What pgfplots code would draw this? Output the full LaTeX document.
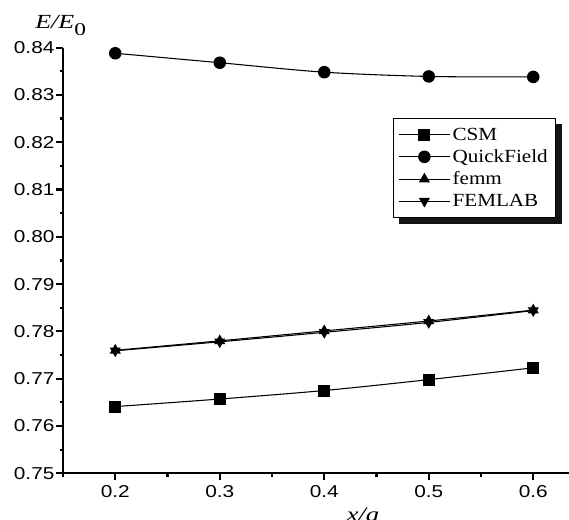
\documentclass[border=0pt]{standalone}
\usepackage{graphicx}
\usepackage{pgfplots}
\pgfplotsset{compat=1.18}
\usepackage{fontspec}
\setmainfont{Liberation Serif}
\newfontfamily\arial{Liberation Sans}
\usetikzlibrary{backgrounds}
\begin{document}
\begin{tikzpicture}
\begin{axis}[
  scale only axis,
  width=391.9pt, height=319.3pt,
  xmin=0.15, xmax=0.65, ymin=0.75, ymax=0.84,
  axis x line=bottom, axis y line=left,
  axis line style={-, line width=1.6pt},
  every tick/.style={line width=1.6pt, black},
  tick align=outside,
  major tick length=5.25pt, minor tick length=2.6pt,
  xtick={0.2,0.3,0.4,0.5,0.6},
  minor xtick={0.15,0.25,0.35,0.45,0.55,0.65},
  ytick={0.75,0.76,0.77,0.78,0.79,0.80,0.81,0.82,0.83,0.84},
  minor ytick={0.755,0.765,0.775,0.785,0.795,0.805,0.815,0.825,0.835},
  /pgf/number format/assume math mode=true,
  tick label style={font=\arial\fontsize{12.9}{14}\selectfont},
  yticklabel={\scalebox{1.21}[1]{\pgfmathprintnumber[fixed,fixed zerofill,precision=2]{\tick}}},
  xticklabel={\scalebox{1.21}[1]{\pgfmathprintnumber[fixed,fixed zerofill,precision=1]{\tick}}},
  yticklabel style={inner xsep=1pt},
  scaled y ticks=false, scaled x ticks=false,
  clip=false,
  legend style={name=leg, at={(0.6316,0.8346)}, anchor=north west, draw=black, line width=0.7pt,
    font=\fontsize{13.9}{16}\selectfont, fill=white,
    inner xsep=4pt, inner ysep=5pt, row sep=1.5pt, cells={anchor=west}},
  legend image code/.code={\draw[mark repeat=2,mark phase=2] plot coordinates {(0cm,0cm) (0.66cm,0cm) (1.32cm,0cm)};},
  every axis plot/.append style={black, line width=0.8pt},
]
\addplot[smooth, mark=square*, mark size=4.1pt] coordinates {(0.2,0.7641) (0.3,0.7657) (0.4,0.7675) (0.5,0.7698) (0.6,0.7723)};
\addlegendentry{\scalebox{1.14}[1]{CSM}}
\addplot[smooth, mark=*, mark size=4.3pt] coordinates {(0.2,0.8388) (0.3,0.8368) (0.4,0.8348) (0.5,0.8339) (0.6,0.8338)};
\addlegendentry{\scalebox{1.14}[1]{QuickField}}
\addplot[smooth, mark=triangle*, mark size=4pt] coordinates {(0.2,0.7760) (0.3,0.7780) (0.4,0.7801) (0.5,0.7822) (0.6,0.7845)};
\addlegendentry{\scalebox{1.14}[1]{femm}}
\addplot[smooth, mark=triangle*, mark options={rotate=180}, mark size=4pt] coordinates {(0.2,0.7759) (0.3,0.7778) (0.4,0.7798) (0.5,0.7819) (0.6,0.7844)};
\addlegendentry{\scalebox{1.14}[1]{FEMLAB}}
\node[font=\fontsize{15}{17}\selectfont, anchor=base west, inner sep=0pt, xshift=-21pt] at (rel axis cs:0.0,1.0453) {\scalebox{1.3}[1]{\textit{E/E}\raisebox{-5.5pt}{\fontsize{13.5}{15}\selectfont 0}}};
\node[font=\fontsize{15.5}{17}\selectfont, anchor=base, inner sep=0pt] at (rel axis cs:0.574,-0.1144) {\scalebox{1.3}[1]{\textit{x/a}}};
\coordinate (bl) at (rel axis cs:-0.1206,-0.1074);
\coordinate (tr) at (rel axis cs:0.9684,1.1118);
\end{axis}
\begin{pgfonlayer}{background}
\fill[black!92] ([xshift=4.5pt,yshift=-4.5pt]leg.south west) rectangle ([xshift=4.5pt,yshift=-4.5pt]leg.north east);
\end{pgfonlayer}
\pgfresetboundingbox
\useasboundingbox (bl) rectangle (tr);
\end{tikzpicture}
\end{document}
